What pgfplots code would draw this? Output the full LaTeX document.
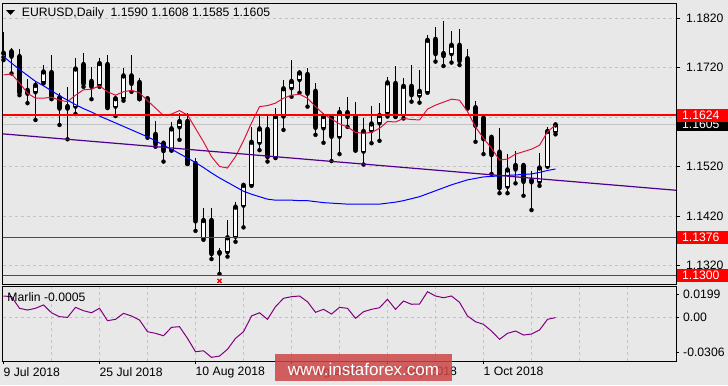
\documentclass[border=0pt]{standalone}
\usepackage{fontspec}
\setmainfont{Liberation Sans}
\usepackage{pgfplots}
\pgfplotsset{compat=1.18}
\usepackage{pgfplotstable}

\definecolor{bg}{RGB}{232,232,232}
\definecolor{gridc}{RGB}{196,196,196}
\definecolor{maRed}{RGB}{220,20,60}
\definecolor{trend}{RGB}{80,0,140}
\definecolor{marlin}{RGB}{128,0,128}
\definecolor{wm}{RGB}{205,70,70}
\definecolor{curp}{RGB}{196,196,196}
\definecolor{lvl}{RGB}{255,0,0}

\pgfplotstableread{
i o h l c
0 1.1741 1.1792 1.1735 1.1750
1 1.1753 1.1759 1.1708 1.1744
2 1.1743 1.1757 1.1664 1.1671
3 1.1675 1.1697 1.1648 1.1669
4 1.1670 1.1691 1.1614 1.1685
5 1.1690 1.1725 1.1688 1.1712
6 1.1711 1.1745 1.1656 1.1661
7 1.1660 1.1668 1.1604 1.1639
8 1.1637 1.1680 1.1575 1.1642
9 1.1641 1.1739 1.1626 1.1718
10 1.1727 1.1750 1.1681 1.1689
11 1.1693 1.1722 1.1656 1.1683
12 1.1685 1.1739 1.1681 1.1729
13 1.1727 1.1745 1.1638 1.1641
14 1.1641 1.1664 1.1622 1.1658
15 1.1658 1.1720 1.1653 1.1704
16 1.1704 1.1745 1.1671 1.1689
17 1.1691 1.1699 1.1656 1.1658
18 1.1658 1.1660 1.1578 1.1584
19 1.1586 1.1611 1.1560 1.1567
20 1.1568 1.1572 1.1530 1.1553
21 1.1553 1.1609 1.1552 1.1597
22 1.1599 1.1629 1.1574 1.1612
23 1.1612 1.1628 1.1525 1.1527
24 1.1527 1.1537 1.1390 1.1411
25 1.1375 1.1436 1.1372 1.1412
26 1.1412 1.1436 1.1333 1.1345
27 1.1347 1.1356 1.1303 1.1346
28 1.1347 1.1411 1.1338 1.1377
29 1.1378 1.1448 1.1368 1.1439
30 1.1441 1.1487 1.1397 1.1483
31 1.1483 1.1600 1.1481 1.1570
32 1.1568 1.1622 1.1553 1.1597
33 1.1596 1.1622 1.1530 1.1541
34 1.1539 1.1639 1.1537 1.1622
35 1.1621 1.1695 1.1594 1.1678
36 1.1678 1.1735 1.1661 1.1693
37 1.1695 1.1713 1.1669 1.1710
38 1.1707 1.1718 1.1641 1.1669
39 1.1673 1.1688 1.1584 1.1600
40 1.1597 1.1629 1.1568 1.1622
41 1.1621 1.1622 1.1531 1.1582
42 1.1580 1.1641 1.1545 1.1630
43 1.1630 1.1660 1.1600 1.1622
44 1.1622 1.1651 1.1552 1.1555
45 1.1550 1.1617 1.1524 1.1592
46 1.1592 1.1642 1.1567 1.1607
47 1.1607 1.1649 1.1572 1.1624
48 1.1628 1.1701 1.1621 1.1690
49 1.1689 1.1723 1.1621 1.1622
50 1.1624 1.1698 1.1617 1.1683
51 1.1683 1.1725 1.1651 1.1666
52 1.1663 1.1715 1.1649 1.1673
53 1.1671 1.1786 1.1669 1.1776
54 1.1778 1.1802 1.1732 1.1749
55 1.1749 1.1814 1.1723 1.1745
56 1.1747 1.1794 1.1730 1.1766
57 1.1766 1.1798 1.1725 1.1735
58 1.1739 1.1757 1.1638 1.1639
59 1.1640 1.1652 1.1570 1.1604
60 1.1619 1.1626 1.1545 1.1577
61 1.1580 1.1582 1.1505 1.1545
62 1.1550 1.1597 1.1466 1.1478
63 1.1479 1.1545 1.1466 1.1514
64 1.1514 1.1552 1.1486 1.1523
65 1.1523 1.1528 1.1461 1.1491
66 1.1493 1.1511 1.1432 1.1490
67 1.1489 1.1547 1.1481 1.1518
68 1.1520 1.1600 1.1520 1.1592
69 1.1590 1.1608 1.1585 1.1605
}\candles

\pgfplotstableread{
i red blue m
0 1.1705 1.1742 0.0183
1 1.1707 1.1729 0.0177
2 1.1689 1.1716 0.0076
3 1.1668 1.1704 0.0061
4 1.1658 1.1692 0.0076
5 1.1658 1.1683 0.0105
6 1.1660 1.1673 0.0037
7 1.1654 1.1663 0.0003
8 1.1651 1.1654 -0.0003
9 1.1664 1.1645 0.0084
10 1.1675 1.1637 0.0055
11 1.1676 1.1630 0.0037
12 1.1683 1.1622 0.0076
13 1.1671 1.1615 -0.0032
14 1.1664 1.1608 -0.0020
15 1.1671 1.1601 0.0032
16 1.1674 1.1594 0.0009
17 1.1669 1.1587 -0.0026
18 1.1653 1.1580 -0.0128
19 1.1638 1.1572 -0.0142
20 1.1623 1.1563 -0.0163
21 1.1626 1.1555 -0.0090
22 1.1633 1.1546 -0.0084
23 1.1624 1.1537 -0.0186
24 1.1597 1.1528 -0.0302
25 1.1570 1.1518 -0.0294
26 1.1540 1.1507 -0.0351
27 1.1520 1.1497 -0.0340
28 1.1517 1.1488 -0.0281
29 1.1540 1.1479 -0.0186
30 1.1572 1.1470 -0.0128
31 1.1608 1.1464 0.0009
32 1.1641 1.1459 0.0037
33 1.1643 1.1454 -0.0020
34 1.1648 1.1452 0.0090
35 1.1658 1.1452 0.0163
36 1.1664 1.1452 0.0177
37 1.1666 1.1451 0.0183
38 1.1658 1.1451 0.0133
39 1.1641 1.1449 0.0041
40 1.1626 1.1447 0.0067
41 1.1616 1.1446 0.0026
42 1.1606 1.1445 0.0084
43 1.1600 1.1444 0.0076
44 1.1589 1.1444 -0.0011
45 1.1587 1.1444 0.0046
46 1.1589 1.1444 0.0067
47 1.1597 1.1444 0.0081
48 1.1611 1.1446 0.0154
49 1.1610 1.1448 0.0067
50 1.1617 1.1451 0.0139
51 1.1615 1.1455 0.0111
52 1.1614 1.1459 0.0113
53 1.1636 1.1465 0.0220
54 1.1644 1.1471 0.0183
55 1.1650 1.1477 0.0168
56 1.1656 1.1483 0.0183
57 1.1654 1.1488 0.0128
58 1.1631 1.1493 0.0009
59 1.1600 1.1496 -0.0041
60 1.1577 1.1499 -0.0064
61 1.1557 1.1500 -0.0122
62 1.1533 1.1501 -0.0194
63 1.1535 1.1502 -0.0142
64 1.1545 1.1503 -0.0122
65 1.1550 1.1504 -0.0157
66 1.1555 1.1505 -0.0148
67 1.1563 1.1508 -0.0113
68 1.1590 1.1512 -0.0020
69 1.1604 1.1515 -0.0005
}\mas

\newcommand{\tf}{\fontsize{12.2bp}{14bp}\selectfont}

\begin{document}
\begin{tikzpicture}[x=1bp,y=1bp]
\fill[bg] (0,0) rectangle (728,-385);
\useasboundingbox (0,0) rectangle (728,-385);

\begin{axis}[
  at={(2.5bp,-3bp)}, anchor=north west,
  width=673.5bp, height=281bp, scale only axis,
  xmin=-0.125, xmax=84.0625, ymin=1.128263, ymax=1.18503,
  scaled x ticks=false, scaled y ticks=false,
  axis line style={black, line width=1bp},
  xtick=\empty,
  minor xtick={6,12,18,24,30,36,42,48,54,60,66,72,78},
  xminorgrids,
  minor tick length=0pt,
  ytick={1.132,1.142,1.152,1.162,1.172,1.182},
  yticklabels={1.1320,1.1420,1.1520,,1.1720,1.1820},
  ytick pos=right,
  ymajorgrids,
  grid style={gridc, line width=1bp, dash pattern=on 3bp off 3bp},
  minor grid style={gridc, line width=1bp, dash pattern=on 3bp off 3bp},
  tick align=outside,
  major tick length=4bp,
  tick style={black, line width=1bp},
  yticklabel style={anchor=west, inner sep=0pt, xshift=6bp, font=\tf},
  clip mode=individual,
]
\addplot[draw=curp, line width=1bp, mark=none, forget plot] coordinates {(-0.125,1.1605) (84.0625,1.1605)};
% wicks
\addplot[only marks, mark=none, forget plot, error bars/.cd, y dir=plus, y explicit, error mark=none,
  error bar style={draw=black, line width=1bp}]
  table[x=i, y=l, y error plus expr={\thisrow{h}-\thisrow{l}}] {\candles};
% bearish bodies
\addplot[only marks, mark=none, forget plot, error bars/.cd, y dir=minus, y explicit, error mark=none,
  error bar style={draw=black, line width=5bp}]
  table[x=i, y=o, y error minus expr={(\thisrow{o}>\thisrow{c})*max(\thisrow{o}-\thisrow{c},0.0002)}] {\candles};
% bullish bodies: outline
\addplot[only marks, mark=none, forget plot, error bars/.cd, y dir=minus, y explicit, error mark=none,
  error bar style={draw=black, line width=5bp}]
  table[x=i, y=c, y error minus expr={(\thisrow{c}>\thisrow{o})*(\thisrow{c}-\thisrow{o})}] {\candles};
% bullish bodies: fill
\addplot[only marks, mark=none, forget plot, error bars/.cd, y dir=minus, y explicit, error mark=none,
  error bar style={draw=white, line width=3bp}]
  table[x=i, y expr={\thisrow{c}-0.0002}, y error minus expr={(\thisrow{c}>\thisrow{o})*max(\thisrow{c}-\thisrow{o}-0.0004,0)}] {\candles};
% moving averages
\addplot[draw=maRed, line width=1bp, mark=none] table[x=i, y=red] {\mas};
\addplot[draw=blue, line width=1bp, mark=none] table[x=i, y=blue] {\mas};
% trend line and levels
\addplot[draw=trend, line width=1.2bp, mark=none] coordinates {(-0.125,1.1586) (84.0625,1.1472)};
\addplot[draw=lvl, line width=1.2bp, mark=none] coordinates {(-0.125,1.1624) (84.0625,1.1624)};
\addplot[draw=lvl, line width=1.2bp, mark=none] coordinates {(-0.125,1.1376) (84.0625,1.1376)};
\addplot[draw=lvl, line width=1.2bp, mark=none] coordinates {(-0.125,1.1300) (84.0625,1.1300)};
\addplot[only marks, mark=x, mark size=2.8bp, draw=lvl, line width=1.3bp] coordinates {(27,1.1289)};
\coordinate (q1624) at (axis cs:84.0625,1.1624);
\coordinate (q1605) at (axis cs:84.0625,1.1605);
\coordinate (q1376) at (axis cs:84.0625,1.1376);
\coordinate (q1300) at (axis cs:84.0625,1.1300);
\end{axis}

\begin{axis}[
  at={(2.5bp,-286bp)}, anchor=north west,
  width=673.5bp, height=75bp, scale only axis,
  xmin=-0.125, xmax=84.0625, ymin=-0.0383, ymax=0.0270,
  scaled x ticks=false, scaled y ticks=false,
  axis line style={black, line width=1bp},
  xtick={0,12,24,36,48,60},
  xticklabels={9 Jul 2018,25 Jul 2018,10 Aug 2018,28 Aug 2018,13 Sep 2018,1 Oct 2018},
  xtick pos=bottom,
  xticklabel style={anchor=north west, inner sep=0pt, yshift=-3bp, font=\tf},
  minor xtick={6,12,18,24,30,36,42,48,54,60,66,72,78},
  xminorgrids,
  minor tick length=0pt,
  ytick={-0.0306,0,0.0199},
  yticklabels={-0.0306,0.00,0.0199},
  ytick pos=right,
  yticklabel style={anchor=west, inner sep=0pt, xshift=4bp, font=\tf},
  minor grid style={gridc, line width=1bp, dash pattern=on 3bp off 3bp},
  tick align=outside,
  major tick length=3bp,
  tick style={black, line width=1bp},
  clip mode=individual,
]
\addplot[draw=gridc, line width=1bp, dash pattern=on 3bp off 3bp, mark=none] coordinates {(-0.125,0) (84.0625,0)};
\addplot[draw=marlin, line width=1bp, mark=none] table[x=i, y=m] {\mas};
\end{axis}

% right-hand price labels
\node[fill=black, text=white, anchor=west, inner xsep=5bp, inner ysep=0pt, minimum height=13bp, text width=41bp, font=\tf] at ([xshift=1bp]q1605) {1.1605};
\node[fill=lvl, text=white, anchor=west, inner xsep=5bp, inner ysep=0pt, minimum height=13bp, text width=41bp, font=\tf] at ([xshift=1bp]q1624) {1.1624};
\node[fill=lvl, text=white, anchor=west, inner xsep=5bp, inner ysep=0pt, minimum height=13bp, text width=41bp, font=\tf] at ([xshift=1bp]q1376) {1.1376};
\node[fill=lvl, text=white, anchor=west, inner xsep=5bp, inner ysep=0pt, minimum height=13bp, text width=41bp, font=\tf] at ([xshift=1bp]q1300) {1.1300};

% title and indicator name
\fill[black] (6,-10) -- (15,-10) -- (10.5,-15) -- cycle;
\node[anchor=base west, inner sep=0pt, font=\tf] at (21.7,-16.7) {EURUSD,Daily\ \ 1.1590 1.1608 1.1585 1.1605};
\node[anchor=base west, inner sep=0pt, font=\tf] at (7.3,-301.5) {Marlin -0.0005};

% watermark
\fill[wm, opacity=0.85] (275,-354) rectangle (452,-381);
\node[text=white, inner sep=0pt, font=\fontsize{17bp}{19bp}\selectfont] at (363.5,-369) {www.instaforex.com};
\end{tikzpicture}
\end{document}
